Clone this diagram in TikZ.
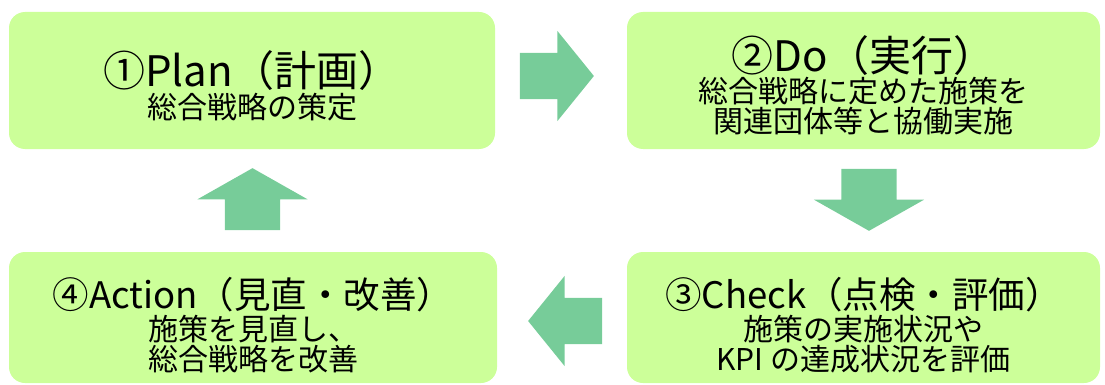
\documentclass[tikz,border=0pt]{standalone}
\usepackage{fontspec}
\setmainfont{Noto Sans CJK JP}
\usetikzlibrary{shapes.arrows}
\definecolor{boxgreen}{HTML}{CCFF99}
\definecolor{arrowgreen}{HTML}{77CC99}
\lineskiplimit=-100pt
\tikzset{
  phase/.style={rectangle, rounded corners=16pt, fill=boxgreen, inner sep=0pt},
  phasetext/.style={align=center, inner sep=0pt, font=\fontsize{30}{30}\selectfont},
  harrow/.style={single arrow, fill=arrowgreen, inner xsep=0pt, inner ysep=23pt, minimum height=74pt, minimum width=90pt, single arrow head extend=22pt, single arrow tip angle=102},
  varrow/.style={single arrow, fill=arrowgreen, inner xsep=27.5pt, inner ysep=0pt, minimum height=62pt, minimum width=110pt, single arrow head extend=27.5pt, single arrow tip angle=121}
}
\newcommand{\toptitle}[1]{{\fontsize{42}{42}\selectfont #1}}
\newcommand{\lowtitle}[1]{{\fontsize{36.5}{36.5}\selectfont #1}}

\begin{document}
\begin{tikzpicture}[x=1pt, y=-1pt]
      \useasboundingbox (0,0) rectangle (1105,385);
      % the four PDCA boxes
      \node[phase, minimum width=486pt, minimum height=137pt] (plan) at (252,80.5) {};
      \node[phase, minimum width=473pt, minimum height=137pt] (do) at (863.5,80.5) {};
      \node[phase, minimum width=473pt, minimum height=131pt] (check) at (863.5,317.5) {};
      \node[phase, minimum width=488pt, minimum height=131pt] (action) at (253,317.5) {};
      \node[phasetext] (plantext) at (252,85.5) {\toptitle{①Plan（計画）}\\[2.4pt] 総合戦略の策定};
      \node[phasetext] (dotext) at (863.5,85) {\toptitle{②Do（実行）}\\[1.4pt] 総合戦略に定めた施策を\\ 関連団体等と協働実施};
      \node[phasetext] (checktext) at (863.5,325) {\lowtitle{③Check（点検・評価）}\\[2.5pt] 施策の実施状況や\\ KPI の達成状況を評価};
      \node[phasetext] (actiontext) at (253,325) {\lowtitle{④Action（見直・改善）}\\[2.5pt] 施策を見直し、\\ 総合戦略を改善};
      % arrows between the boxes
      \path (plan) -- node[harrow, xshift=-13.5pt, yshift=4.5pt] (arrow12) {} (do);
      \path (do) -- node[varrow, shape border rotate=270, xshift=5.5pt, yshift=8.5pt] (arrow23) {} (check);
      \path (check) -- node[harrow, shape border rotate=180, xshift=12.5pt, yshift=-3.5pt] (arrow34) {} (action);
      \path (action) -- node[varrow, shape border rotate=90, yshift=-6.5pt] (arrow41) {} (plan);
\end{tikzpicture}
\end{document}
